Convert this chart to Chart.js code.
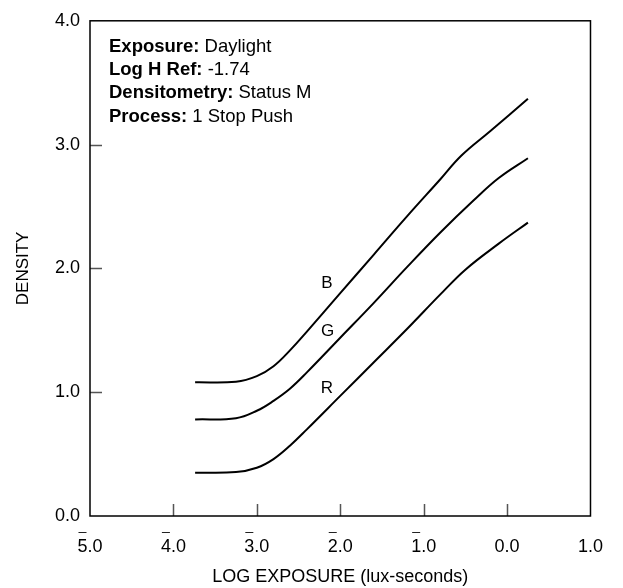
<!DOCTYPE html>
<html>
<head>
<meta charset="utf-8">
<script src="https://cdn.jsdelivr.net/npm/chart.js@4"></script>
<style>
	html, body { margin: 0; padding: 0; background: #fff; }
	#wrap { width: 623px; height: 588px; }
</style>
</head>
<body>
<div id="wrap"><canvas id="myChart" width="623" height="588"></canvas></div>

<script>
	// curve data (log exposure vs density)
	var blueLogE = [-3.74, -3.25, -3.0, -2.8, -2.6, -2.4, -2.0, -1.6, -1.2, -0.8, -0.55, -0.2, 0.25];
	var blueDensity = [1.08, 1.085, 1.13, 1.21, 1.34, 1.49, 1.80, 2.11, 2.42, 2.72, 2.91, 3.11, 3.37];

	var greenLogE = [-3.74, -3.25, -3.0, -2.8, -2.6, -2.4, -2.0, -1.6, -1.2, -0.8, -0.4, -0.1, 0.25];
	var greenDensity = [0.78, 0.79, 0.85, 0.93, 1.03, 1.16, 1.44, 1.72, 2.01, 2.29, 2.55, 2.73, 2.89];

	var redLogE = [-3.74, -3.25, -3.0, -2.8, -2.6, -2.4, -2.0, -1.6, -1.2, -0.8, -0.5, -0.1, 0.25];
	var redDensity = [0.35, 0.355, 0.39, 0.46, 0.57, 0.70, 0.97, 1.24, 1.51, 1.79, 1.99, 2.20, 2.37];

	// curve letters
	var curveNames = ['B', 'G', 'R'];
	var nameLogE = [-2.16, -2.15, -2.16];
	var nameDensity = [1.88, 1.49, 1.03];

	// info block
	var infoBold = ['Exposure:', 'Log H Ref:', 'Densitometry:', 'Process:'];
	var infoText = ['Daylight', '-1.74', 'Status M', '1 Stop Push'];

	var xTicks = [-5, -4, -3, -2, -1, 0, 1];
	var yTicks = [0, 1, 2, 3, 4];

	var FONT = '"Liberation Sans", Arial, Helvetica, sans-serif';
	var TICK_SIZE = 18;
	var TICK_PAD = 20;

	function toPoints(xs, ys) {
		var pts = [];
		for (let i = 0; i < xs.length; i++) {
			pts.push({ x: xs[i], y: ys[i] });
		}
		return pts;
	}

	function curve(label, xs, ys) {
		return {
			label: label,
			data: toPoints(xs, ys),
			showLine: true,
			borderColor: '#000',
			borderWidth: 2,
			pointRadius: 0,
			fill: false,
			tension: 0.4
		};
	}

	// box, inner ticks, tick overbars, curve letters and the info text
	var decor = {
		id: 'decor',
		afterDraw: function(chart) {
			var ctx = chart.ctx;
			var a = chart.chartArea;
			var xs = chart.scales.x;
			var ys = chart.scales.y;

			ctx.save();

			// inner tick marks
			ctx.strokeStyle = '#555';
			ctx.lineWidth = 1.5;
			ctx.beginPath();
			xTicks.forEach(function(v) {
				if (v == xTicks[0] || v == xTicks[xTicks.length - 1]) return;
				var px = Math.round(xs.getPixelForValue(v)) + 0.5;
				ctx.moveTo(px, a.bottom);
				ctx.lineTo(px, a.bottom - 12);
			});
			yTicks.forEach(function(v) {
				if (v == yTicks[0] || v == yTicks[yTicks.length - 1]) return;
				var py = Math.round(ys.getPixelForValue(v)) + 0.5;
				ctx.moveTo(a.left, py);
				ctx.lineTo(a.left + 12, py);
			});
			ctx.stroke();

			// frame
			ctx.strokeStyle = '#000';
			ctx.lineWidth = 1.5;
			ctx.strokeRect(a.left, a.top, a.right - a.left, a.bottom - a.top);

			// bars over the characteristic of negative logs
			ctx.font = TICK_SIZE + 'px ' + FONT;
			ctx.strokeStyle = '#222';
			ctx.lineWidth = 1.2;
			ctx.beginPath();
			xTicks.forEach(function(v) {
				if (v >= 0) return;
				var txt = Math.abs(v).toFixed(1);
				var w = ctx.measureText(txt).width;
				var d = ctx.measureText(txt.charAt(0)).width;
				var left = xs.getPixelForValue(v) - w / 2;
				var by = Math.round(a.bottom + TICK_PAD - 4) + 0.5;
				ctx.moveTo(left + 1, by);
				ctx.lineTo(left + d - 1, by);
			});
			ctx.stroke();

			// curve letters
			ctx.fillStyle = '#000';
			ctx.textAlign = 'center';
			ctx.textBaseline = 'middle';
			ctx.font = '17px ' + FONT;
			for (let i = 0; i < curveNames.length; i++) {
				ctx.fillText(curveNames[i], xs.getPixelForValue(nameLogE[i]), ys.getPixelForValue(nameDensity[i]));
			}

			// info block
			ctx.textAlign = 'left';
			ctx.textBaseline = 'alphabetic';
			for (let i = 0; i < infoBold.length; i++) {
				var tx = a.left + 19;
				var ty = a.top + 31 + i * 23.3;
				ctx.font = 'bold 18.5px ' + FONT;
				ctx.fillText(infoBold[i], tx, ty);
				var bw = ctx.measureText(infoBold[i] + ' ').width;
				ctx.font = '18.5px ' + FONT;
				ctx.fillText(infoText[i], tx + bw, ty);
			}

			ctx.restore();
		}
	};

	function initChart() {
		var ctx = document.getElementById('myChart').getContext('2d');
		var chartData = {
			type: 'scatter',
			data: {
				datasets: [
					curve('B', blueLogE, blueDensity),
					curve('G', greenLogE, greenDensity),
					curve('R', redLogE, redDensity)
				]
			},
			options: {
				responsive: false,
				animation: false,
				layout: { padding: { top: 14, right: 30, left: 0, bottom: 0 } },
				plugins: {
					legend: { display: false },
					tooltip: { enabled: false }
				},
				scales: {
					x: {
						type: 'linear',
						min: -5,
						max: 1,
						afterBuildTicks: function(scale) {
							scale.ticks = xTicks.map(function(v) { return { value: v }; });
						},
						afterFit: function(scale) { scale.height = 72; },
						grid: { display: false, drawTicks: false },
						border: { display: false },
						ticks: {
							padding: TICK_PAD,
							color: '#000',
							maxRotation: 0,
							font: { family: FONT, size: TICK_SIZE },
							callback: function(v) { return Math.abs(v).toFixed(1); }
						},
						title: {
							display: true,
							text: 'LOG EXPOSURE (lux-seconds)',
							color: '#000',
							font: { family: FONT, size: 18 },
							padding: { top: 0, bottom: 0 }
						}
					},
					y: {
						type: 'linear',
						min: 0,
						max: 4,
						afterBuildTicks: function(scale) {
							scale.ticks = yTicks.map(function(v) { return { value: v }; });
						},
						afterFit: function(scale) { scale.width = 90; },
						grid: { display: false, drawTicks: false },
						border: { display: false },
						ticks: {
							padding: 10,
							color: '#000',
							font: { family: FONT, size: TICK_SIZE },
							callback: function(v) { return v.toFixed(1); }
						},
						title: {
							display: true,
							text: 'DENSITY',
							color: '#000',
							font: { family: FONT, size: 17 },
							padding: { top: 13, bottom: 0 }
						}
					}
				}
			},
			plugins: [decor]
		};

		var myChart = new Chart(ctx, chartData);
	}

	initChart();
</script>
</body>
</html>
